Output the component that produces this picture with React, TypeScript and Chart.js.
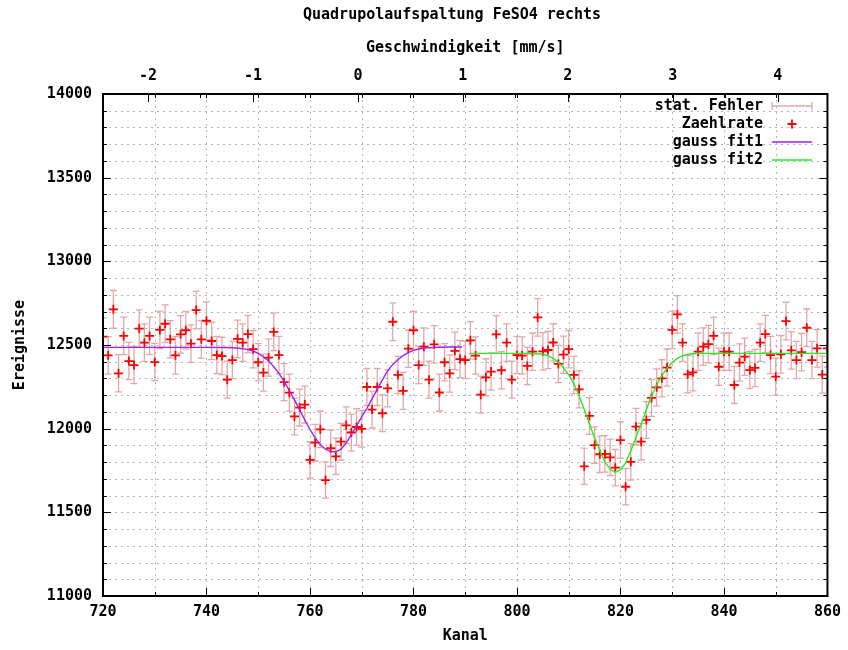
import React, { useEffect, useRef } from "react";
import { Chart, registerables } from "chart.js";

Chart.register(...registerables);

const TITLE = "Quadrupolaufspaltung FeSO4 rechts";
const X_TITLE = "Kanal";
const X2_TITLE = "Geschwindigkeit [mm/s]";
const Y_TITLE = "Ereignisse";
const LEGEND_LABELS = ["stat. Fehler", "Zaehlrate", "gauss fit1", "gauss fit2"];

// Kanal (channel numbers)
const channels = [
  720, 721, 722, 723, 724, 725, 726, 727, 728, 729,
  730, 731, 732, 733, 734, 735, 736, 737, 738, 739,
  740, 741, 742, 743, 744, 745, 746, 747, 748, 749,
  750, 751, 752, 753, 754, 755, 756, 757, 758, 759,
  760, 761, 762, 763, 764, 765, 766, 767, 768, 769,
  770, 771, 772, 773, 774, 775, 776, 777, 778, 779,
  780, 781, 782, 783, 784, 785, 786, 787, 788, 789,
  790, 791, 792, 793, 794, 795, 796, 797, 798, 799,
  800, 801, 802, 803, 804, 805, 806, 807, 808, 809,
  810, 811, 812, 813, 814, 815, 816, 817, 818, 819,
  820, 821, 822, 823, 824, 825, 826, 827, 828, 829,
  830, 831, 832, 833, 834, 835, 836, 837, 838, 839,
  840, 841, 842, 843, 844, 845, 846, 847, 848, 849,
  850, 851, 852, 853, 854, 855, 856, 857, 858, 859,
  860,
];

// Zaehlrate (counts per channel)
const counts = [
  12550, 12438, 12713, 12331, 12554, 12404, 12380, 12598, 12514, 12554,
  12398, 12590, 12627, 12534, 12438, 12564, 12588, 12508, 12709, 12534,
  12645, 12524, 12440, 12434, 12293, 12410, 12537, 12514, 12565, 12475,
  12397, 12335, 12425, 12578, 12440, 12278, 12215, 12073, 12126, 12144,
  11813, 11916, 11996, 11693, 11883, 11835, 11922, 12020, 11977, 12010,
  11999, 12249, 12114, 12249, 12092, 12241, 12639, 12321, 12226, 12478,
  12588, 12380, 12490, 12293, 12504, 12216, 12397, 12330, 12465, 12416,
  12410, 12528, 12437, 12203, 12307, 12341, 12564, 12349, 12514, 12293,
  12440, 12437, 12375, 12460, 12665, 12462, 12470, 12515, 12387, 12442,
  12475, 12321, 12235, 11775, 12076, 11902, 11847, 11849, 11829, 11767,
  11932, 11653, 11802, 12012, 11922, 12052, 12184, 12247, 12301, 12365,
  12590, 12683, 12514, 12325, 12337, 12460, 12490, 12505, 12555, 12370,
  12460, 12460, 12261, 12395, 12430, 12350, 12363, 12514, 12565, 12440,
  12311, 12444, 12643, 12468, 12410, 12457, 12603, 12410, 12480, 12323,
  12480,
];

// gauss fit1
const fit1Channels = [
  720, 730, 740, 744, 746, 747, 748, 749, 750, 751, 752, 753, 754, 755,
  756, 757, 758, 759, 760, 761, 762, 763, 764, 765, 766, 767, 768, 769,
  770, 771, 772, 773, 774, 775, 776, 777, 778, 779, 780, 781, 782, 783,
  785, 787, 789.4,
];
const fit1Values = [
  12486, 12486, 12486, 12485, 12482, 12478, 12472, 12464, 12450, 12430, 12405, 12370, 12330, 12282,
  12228, 12172, 12112, 12052, 11995, 11945, 11905, 11877, 11863, 11862, 11877, 11915, 11965, 12018,
  12070, 12122, 12178, 12235, 12292, 12345, 12384, 12412, 12437, 12455, 12468, 12476, 12481, 12484,
  12487, 12488, 12488,
];

// gauss fit2
const fit2Channels = [
  790.8, 800, 804, 805, 806, 807, 808, 809, 810, 811, 812, 813, 814, 815,
  816, 817, 818, 819, 820, 821, 822, 823, 824, 825, 826, 827, 828, 829,
  830, 831, 832, 833, 834, 835, 845, 860,
];
const fit2Values = [
  12450, 12450, 12448, 12445, 12436, 12420, 12395, 12362, 12322, 12268, 12198, 12115, 12030, 11945,
  11868, 11802, 11757, 11740, 11755, 11795, 11868, 11948, 12030, 12113, 12195, 12262, 12318, 12362,
  12395, 12420, 12436, 12444, 12448, 12450, 12450, 12450,
];

// axis ranges
const channelRange = [720, 860];
const countRange = [11000, 14000];
const velocityRange = [-2.429, 4.474]; // mm/s at channel 720 and 860

const FONT = "'DejaVu Sans Mono', 'Liberation Mono', monospace";
const RED = "#ff0000";
const ERR = "#e2a8a8";
const PURPLE = "#a020f0";
const GREEN = "#22ee22";
const GRID = "#b4b4b4";

const isMultiple = (v: number, m: number) => Math.abs(v / m - Math.round(v / m)) < 1e-6;

const decorPlugin = {
  id: "decor",
  beforeDatasetsDraw(chart: any) {
    const { ctx, chartArea: a, scales } = chart;
    const x = scales.x;
    const y = scales.y;
    ctx.save();
    // grid
    ctx.strokeStyle = GRID;
    ctx.lineWidth = 1;
    ctx.setLineDash([2, 4]);
    x.ticks.forEach((t: any) => {
      const px = Math.round(x.getPixelForValue(t.value)) + 0.5;
      if (px <= a.left + 2 || px >= a.right - 2) return;
      ctx.beginPath();
      ctx.moveTo(px, a.top);
      ctx.lineTo(px, a.bottom);
      ctx.stroke();
    });
    y.ticks.forEach((t: any) => {
      const py = Math.round(y.getPixelForValue(t.value)) + 0.5;
      if (py <= a.top + 2 || py >= a.bottom - 2) return;
      ctx.beginPath();
      ctx.moveTo(a.left, py);
      ctx.lineTo(a.right, py);
      ctx.stroke();
    });
    ctx.setLineDash([]);
    // error bars
    ctx.beginPath();
    ctx.rect(a.left, a.top, a.right - a.left, a.bottom - a.top);
    ctx.clip();
    ctx.strokeStyle = ERR;
    ctx.lineWidth = 1.3;
    channels.forEach((c, i) => {
      const v = counts[i];
      const e = Math.sqrt(v);
      const px = x.getPixelForValue(c);
      const pt = y.getPixelForValue(v + e);
      const pb = y.getPixelForValue(v - e);
      ctx.beginPath();
      ctx.moveTo(px, pt);
      ctx.lineTo(px, pb);
      ctx.moveTo(px - 3.5, pt);
      ctx.lineTo(px + 3.5, pt);
      ctx.moveTo(px - 3.5, pb);
      ctx.lineTo(px + 3.5, pb);
      ctx.stroke();
    });
    ctx.restore();
  },
  afterDatasetsDraw(chart: any) {
    const { ctx, chartArea: a, scales } = chart;
    const x = scales.x;
    const y = scales.y;
    const x2 = scales.x2;
    ctx.save();
    // tick marks (inward)
    ctx.strokeStyle = "#000";
    ctx.lineWidth = 1;
    ctx.beginPath();
    y.ticks.forEach((t: any) => {
      const py = Math.round(y.getPixelForValue(t.value)) + 0.5;
      const len = isMultiple(t.value, 500) ? 8 : 4;
      ctx.moveTo(a.left, py);
      ctx.lineTo(a.left + len, py);
      ctx.moveTo(a.right, py);
      ctx.lineTo(a.right - len, py);
    });
    x.ticks.forEach((t: any) => {
      const px = Math.round(x.getPixelForValue(t.value)) + 0.5;
      const len = isMultiple(t.value, 20) ? 8 : 4;
      ctx.moveTo(px, a.bottom);
      ctx.lineTo(px, a.bottom - len);
      ctx.moveTo(px, a.top);
      ctx.lineTo(px, a.top + 4);
    });
    x2.ticks.forEach((t: any) => {
      const px = Math.round(x2.getPixelForValue(t.value)) + 0.5;
      const len = isMultiple(t.value, 1) ? 8 : 4;
      ctx.moveTo(px, a.top);
      ctx.lineTo(px, a.top + len);
    });
    ctx.stroke();
    // frame
    ctx.lineWidth = 2;
    ctx.strokeStyle = "#000";
    ctx.strokeRect(a.left, a.top, a.right - a.left, a.bottom - a.top);

    // texts
    ctx.fillStyle = "#000";
    ctx.font = `bold 15px ${FONT}`;
    ctx.textAlign = "center";
    ctx.textBaseline = "middle";
    ctx.fillText(TITLE, 452, 15);
    ctx.fillText(X2_TITLE, (a.left + a.right) / 2, 48);
    ctx.fillText(X_TITLE, (a.left + a.right) / 2, 636);
    ctx.save();
    ctx.translate(20, (a.top + a.bottom) / 2);
    ctx.rotate(-Math.PI / 2);
    ctx.fillText(Y_TITLE, 0, 0);
    ctx.restore();

    // legend
    const rows = [106, 124, 142, 160];
    const textRight = 763;
    const s0 = 772;
    const s1 = 812;
    ctx.textAlign = "right";
    LEGEND_LABELS.forEach((label, i) => {
      ctx.fillStyle = "#000";
      ctx.fillText(label, textRight, rows[i]);
    });
    // stat. Fehler sample
    ctx.strokeStyle = ERR;
    ctx.lineWidth = 1.3;
    ctx.beginPath();
    ctx.moveTo(s0, rows[0]);
    ctx.lineTo(s1, rows[0]);
    ctx.moveTo(s0, rows[0] - 4);
    ctx.lineTo(s0, rows[0] + 4);
    ctx.moveTo(s1, rows[0] - 4);
    ctx.lineTo(s1, rows[0] + 4);
    ctx.stroke();
    // Zaehlrate sample
    const cx = (s0 + s1) / 2;
    ctx.strokeStyle = RED;
    ctx.lineWidth = 1.8;
    ctx.beginPath();
    ctx.moveTo(cx - 4.5, rows[1]);
    ctx.lineTo(cx + 4.5, rows[1]);
    ctx.moveTo(cx, rows[1] - 4.5);
    ctx.lineTo(cx, rows[1] + 4.5);
    ctx.stroke();
    // fits
    ctx.lineWidth = 1.5;
    ctx.strokeStyle = PURPLE;
    ctx.beginPath();
    ctx.moveTo(s0, rows[2]);
    ctx.lineTo(s1, rows[2]);
    ctx.stroke();
    ctx.strokeStyle = GREEN;
    ctx.beginPath();
    ctx.moveTo(s0, rows[3]);
    ctx.lineTo(s1, rows[3]);
    ctx.stroke();
    ctx.restore();
  },
};

export default function App() {
  const canvasRef = useRef<HTMLCanvasElement | null>(null);

  useEffect(() => {
    document.body.style.margin = "0";
    const canvas = canvasRef.current;
    if (!canvas) return;
    const tickFont = { family: FONT, size: 15, weight: "bold" as const };
    const chart = new Chart(canvas, {
      type: "scatter",
      data: {
        datasets: [
          {
            label: LEGEND_LABELS[2],
            data: fit1Channels.map((c, i) => ({ x: c, y: fit1Values[i] })),
            showLine: true,
            borderColor: PURPLE,
            borderWidth: 1.4,
            pointRadius: 0,
            tension: 0,
            order: 1,
          },
          {
            label: LEGEND_LABELS[3],
            data: fit2Channels.map((c, i) => ({ x: c, y: fit2Values[i] })),
            showLine: true,
            borderColor: GREEN,
            borderWidth: 1.4,
            pointRadius: 0,
            tension: 0,
            order: 1,
          },
          {
            label: LEGEND_LABELS[1],
            data: channels.map((c, i) => ({ x: c, y: counts[i] })),
            showLine: false,
            pointStyle: "cross",
            pointRadius: 4.5,
            pointBorderWidth: 1.8,
            borderColor: RED,
            backgroundColor: RED,
            order: 2,
          },
        ],
      },
      options: {
        responsive: false,
        animation: false,
        devicePixelRatio: 1,
        layout: { padding: { left: 0, right: 19, top: 0, bottom: 0 } },
        plugins: {
          legend: { display: false },
          tooltip: { enabled: false },
          title: { display: false },
        },
        scales: {
          x: {
            type: "linear",
            position: "bottom",
            min: channelRange[0],
            max: channelRange[1],
            grid: { display: false, drawTicks: false },
            border: { display: false },
            ticks: {
              stepSize: 10,
              autoSkip: false,
              maxRotation: 0,
              padding: 7,
              color: "#000",
              font: tickFont,
              callback: (v: any) => (isMultiple(Number(v), 20) ? String(v) : ""),
            },
            afterFit: (s: any) => {
              s.height = 54;
            },
          },
          x2: {
            type: "linear",
            position: "top",
            min: velocityRange[0],
            max: velocityRange[1],
            grid: { display: false, drawTicks: false },
            border: { display: false },
            ticks: {
              stepSize: 0.5,
              includeBounds: false,
              autoSkip: false,
              maxRotation: 0,
              padding: 9,
              color: "#000",
              font: tickFont,
              callback: (v: any) => (isMultiple(Number(v), 1) ? String(Math.round(Number(v))) : ""),
            },
            afterFit: (s: any) => {
              s.height = 94;
            },
          },
          y: {
            type: "linear",
            position: "left",
            min: countRange[0],
            max: countRange[1],
            grid: { display: false, drawTicks: false },
            border: { display: false },
            ticks: {
              stepSize: 100,
              autoSkip: false,
              padding: 11,
              color: "#000",
              font: tickFont,
              callback: (v: any) => (isMultiple(Number(v), 500) ? String(v) : ""),
            },
            afterFit: (s: any) => {
              s.width = 103;
            },
          },
        },
      },
      plugins: [decorPlugin],
    });
    return () => chart.destroy();
  }, []);

  return (
    <div style={{ width: 848, height: 650, position: "relative" }}>
      <canvas ref={canvasRef} width={848} height={650} style={{ display: "block" }} />
    </div>
  );
}
